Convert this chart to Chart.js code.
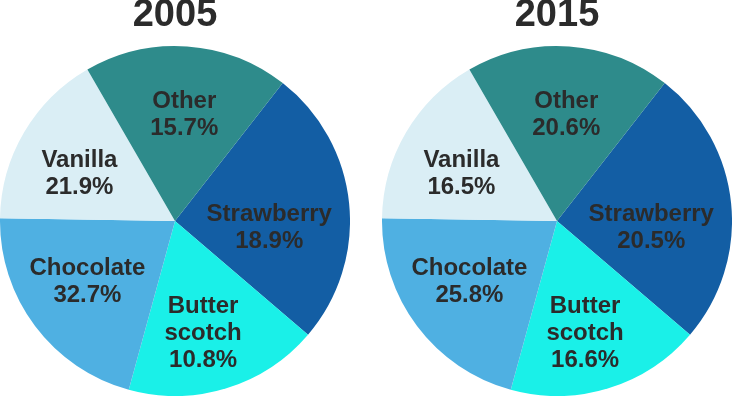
<!DOCTYPE html>
<html>
<head>
<meta charset="utf-8">
<script src="https://cdn.jsdelivr.net/npm/chart.js@4"></script>
<style>
  html, body { margin: 0; padding: 0; background: #fff; }
  .wrap { position: relative; width: 733px; height: 398px; overflow: hidden; }
  .pie { position: absolute; top: -3px; width: 350px; height: 399px; }
</style>
</head>
<body>
<div class="wrap">
  <div class="pie" style="left:0px"><canvas id="pie-2005" width="350" height="399"></canvas></div>
  <div class="pie" style="left:382px"><canvas id="pie-2015" width="350" height="399"></canvas></div>
</div>
<script>
// Flavour shares, two pies side by side.
const flavours = ['Strawberry', 'Butter\nscotch', 'Chocolate', 'Vanilla', 'Other'];
const colours = ['#135ea4', '#1af0e8', '#4fb0e2', '#daeef5', '#2e8b8b'];

// slice sizes as drawn in the picture (both pies are drawn the same)
const slices2005 = [25.7, 18.0, 21.0, 16.4, 18.9];
const slices2015 = [25.7, 18.0, 21.0, 16.4, 18.9];

// percentages printed on the slices
const pct2005 = ['18.9%', '10.8%', '32.7%', '21.9%', '15.7%'];
const pct2015 = ['20.5%', '16.6%', '25.8%', '16.5%', '20.6%'];

// label placement: fraction of radius, angle nudge in degrees
const labelRadius = [0.54, 0.66, 0.61, 0.61, 0.61];
const labelTurn = [10, 3, 2, -4, 1];

const sliceLabels = {
  id: 'sliceLabels',
  afterDatasetsDraw(chart) {
    const ctx = chart.ctx;
    const pcts = chart.options.plugins.sliceLabels.pcts;
    chart.getDatasetMeta(0).data.forEach((arc, i) => {
      const p = arc.getProps(['x', 'y', 'startAngle', 'endAngle', 'outerRadius'], true);
      const mid = (p.startAngle + p.endAngle) / 2 + labelTurn[i] * Math.PI / 180;
      const r = p.outerRadius * labelRadius[i];
      const cx = p.x + Math.cos(mid) * r;
      const cy = p.y + Math.sin(mid) * r;
      const lines = flavours[i].split('\n').concat(pcts[i]);
      const lh = 27;
      ctx.save();
      ctx.font = 'bold 24px "Liberation Sans", Arial, sans-serif';
      ctx.fillStyle = '#2b2b2b';
      ctx.textAlign = 'center';
      ctx.textBaseline = 'middle';
      lines.forEach((t, k) => {
        ctx.fillText(t, cx, cy + (k - (lines.length - 1) / 2) * lh);
      });
      ctx.restore();
    });
  }
};

function drawPie(id, year, values, pcts) {
  new Chart(document.getElementById(id), {
    type: 'pie',
    data: {
      labels: flavours,
      datasets: [{ data: values, backgroundColor: colours, borderWidth: 0 }]
    },
    options: {
      responsive: false,
      animation: false,
      devicePixelRatio: 1,
      rotation: 38,
      layout: { padding: 0 },
      plugins: {
        legend: { display: false },
        tooltip: { enabled: false },
        title: {
          display: true,
          text: year,
          color: '#2b2b2b',
          font: { family: '"Liberation Sans", Arial, sans-serif', size: 38, weight: 'bold', lineHeight: 1 },
          padding: { top: 0, bottom: 11 }
        },
        sliceLabels: { pcts: pcts }
      }
    },
    plugins: [sliceLabels]
  });
}

drawPie('pie-2005', '2005', slices2005, pct2005);
drawPie('pie-2015', '2015', slices2015, pct2015);
</script>
</body>
</html>
